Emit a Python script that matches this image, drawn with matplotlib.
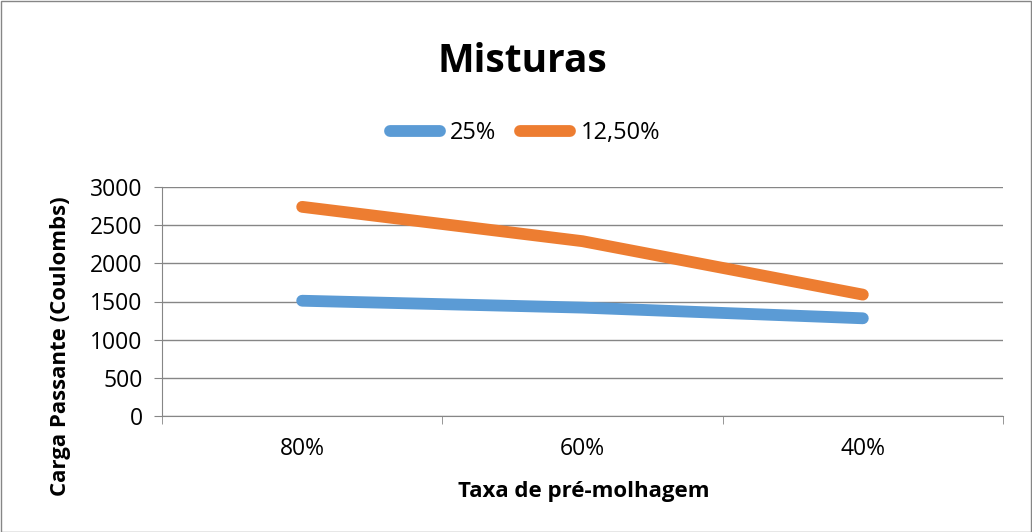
import matplotlib
matplotlib.use("Agg")
import matplotlib.pyplot as plt
from matplotlib.patches import Rectangle

categories = ["80%", "60%", "40%"]
series_names = ["25%", "12,50%"]
s25 = [1510, 1420, 1280]
s125 = [2740, 2290, 1590]
yticks = [0, 500, 1000, 1500, 2000, 2500, 3000]

blue = "#5B9BD5"
orange = "#ED7D31"
font = ["Open Sans", "DejaVu Sans"]
plt.rcParams["font.family"] = font

W, H = 1032, 532
fig = plt.figure(figsize=(W / 100, H / 100), dpi=100)
ax = fig.add_axes([162 / W, 1 - 416 / H, (1003 - 162) / W, (416 - 187) / H])

x = list(range(len(categories)))
l1, = ax.plot(x, s25, color=blue, lw=8.5, solid_capstyle="round", solid_joinstyle="round", label=series_names[0])
l2, = ax.plot(x, s125, color=orange, lw=8.5, solid_capstyle="round", solid_joinstyle="round", label=series_names[1])

ax.set_xlim(-0.5, len(categories) - 0.5)
ax.set_ylim(0, 3000)
ax.set_yticks(yticks)
ax.set_yticklabels([str(v) for v in yticks], fontsize=16.5)
ax.set_xticks(x)
ax.set_xticklabels(categories, fontsize=16.5)
ax.tick_params(axis="x", length=0, pad=15)
ax.set_xticks([i - 0.5 for i in range(len(categories) + 1)], minor=True)
ax.tick_params(axis="x", which="minor", length=6, color="#868686", direction="out")
ax.tick_params(axis="y", length=6, color="#868686", direction="out", pad=8)
ax.grid(axis="y", color="#868686", lw=1)
ax.set_axisbelow(True)
for s in ["top", "right"]:
    ax.spines[s].set_visible(False)
ax.spines["left"].set_color("#868686")
ax.spines["bottom"].set_color("#868686")

fig.text(584 / W, 1 - 491 / H, "Taxa de pré-molhagem", fontsize=16, fontweight="bold",
         ha="center", va="center")
fig.text(61 / W, 1 - 346 / H, "Carga Passante (Coulombs)", fontsize=16, fontweight="bold",
         ha="center", va="center", rotation=90)

fig.text(522 / W, 1 - 62 / H, "Misturas", fontsize=28, fontweight="bold", ha="center", va="center")

leg = fig.legend(handles=[l1, l2], loc="center", bbox_to_anchor=(525 / W, 1 - 133 / H),
                 ncol=2, frameon=False, fontsize=17, handlelength=2.1, handletextpad=0.45,
                 columnspacing=1.0)

fig.patches.append(Rectangle((0.5 / W, 0.5 / H), 1 - 1.5 / W, 1 - 1.5 / H, transform=fig.transFigure,
                             fill=False, edgecolor="#868686", lw=1))

fig.savefig("out.png", dpi=100)
